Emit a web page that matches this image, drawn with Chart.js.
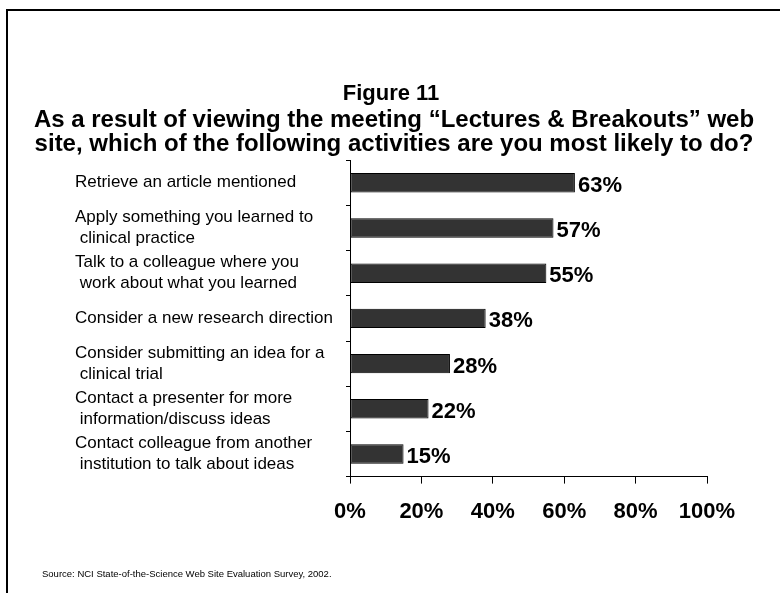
<!DOCTYPE html>
<html>
<head>
<meta charset="utf-8">
<script src="https://cdn.jsdelivr.net/npm/chart.js@4/dist/chart.umd.min.js"></script>
<style>
  html, body { margin: 0; padding: 0; background: #fff; }
  #wrap { position: relative; width: 780px; height: 593px; overflow: hidden; }
  #frame { position: absolute; left: 6px; top: 9px; width: 800px; height: 600px;
           border-left: 2px solid #000; border-top: 2px solid #000; }
  #chart { position: absolute; left: 0; top: 0; }
  #source { position: absolute; left: 42px; top: 568px; font: 9.5px "Liberation Sans", Arial, sans-serif; color: #000; }
</style>
</head>
<body>
<div id="wrap">
  <div id="frame"></div>
  <canvas id="chart" width="780" height="593"></canvas>
  <div id="source">Source: NCI State-of-the-Science Web Site Evaluation Survey, 2002.</div>
</div>
<script>
  var activities = [
    ['Retrieve an article mentioned'],
    ['Apply something you learned to', ' clinical practice'],
    ['Talk to a colleague where you', ' work about what you learned'],
    ['Consider a new research direction'],
    ['Consider submitting an idea for a', ' clinical trial'],
    ['Contact a presenter for more', ' information/discuss ideas'],
    ['Contact colleague from another', ' institution to talk about ideas']
  ];
  var percents = [63, 57, 55, 38, 28, 22, 15];
  var xTicks = [0, 20, 40, 60, 80, 100];
  var subtitleLines = [
    'As a result of viewing the meeting \u201cLectures & Breakouts\u201d web',
    'site, which of the following activities are you most likely to do?'
  ];

  var fontFamily = '"Liberation Sans", Arial, sans-serif';

  // percent labels right of each bar
  var valueLabels = {
    id: 'valueLabels',
    afterDatasetsDraw: function (chart) {
      var ctx = chart.ctx;
      var meta = chart.getDatasetMeta(0);
      ctx.save();
      ctx.font = 'bold 22px ' + fontFamily;
      ctx.fillStyle = '#000';
      ctx.textAlign = 'left';
      ctx.textBaseline = 'middle';
      meta.data.forEach(function (bar, i) {
        ctx.fillText(percents[i] + '%', bar.x + 3, bar.y + 3);
      });
      ctx.restore();
    }
  };

  // the two question lines are wider than the plot box, so draw them here
  // (the built-in subtitle squeezes them to fit)
  var questionText = {
    id: 'questionText',
    afterDraw: function (chart) {
      var ctx = chart.ctx;
      ctx.save();
      ctx.font = 'bold 24px ' + fontFamily;
      ctx.fillStyle = '#000';
      ctx.textAlign = 'center';
      ctx.textBaseline = 'middle';
      subtitleLines.forEach(function (line, i) {
        ctx.fillText(line, chart.width / 2 + 4, 120 + i * 24);
      });
      ctx.restore();
    }
  };

  new Chart(document.getElementById('chart'), {
    type: 'bar',
    data: {
      labels: activities,
      datasets: [{
        data: percents,
        backgroundColor: '#333333',
        borderColor: '#000000',
        borderWidth: 1,
        borderSkipped: false,
        barPercentage: 0.86,
        categoryPercentage: 0.5
      }]
    },
    options: {
      indexAxis: 'y',
      responsive: false,
      animation: false,
      layout: {
        padding: { left: 75, right: 73, top: 82, bottom: 53 }
      },
      scales: {
        x: {
          min: 0,
          max: 100,
          afterBuildTicks: function (axis) {
            axis.ticks = xTicks.map(function (v) { return { value: v }; });
          },
          grid: {
            drawOnChartArea: false,
            drawTicks: true,
            tickLength: 7,
            color: '#000',
            lineWidth: 1
          },
          border: { display: true, color: '#000', width: 1 },
          ticks: {
            color: '#000',
            font: { family: fontFamily, size: 22, weight: 'bold', lineHeight: 1.2 },
            padding: 15,
            maxRotation: 0,
            callback: function (v) { return v + '%'; }
          }
        },
        y: {
          afterFit: function (axis) { axis.width = 275; },
          grid: {
            offset: true,
            drawOnChartArea: false,
            drawTicks: true,
            tickLength: 4,
            color: '#000',
            lineWidth: 1
          },
          border: { display: true, color: '#000', width: 1 },
          ticks: {
            color: '#000',
            crossAlign: 'far',
            font: { family: fontFamily, size: 17, lineHeight: 1.24 },
            autoSkip: false
          }
        }
      },
      plugins: {
        legend: { display: false },
        tooltip: { enabled: false },
        title: {
          display: true,
          text: 'Figure 11',
          color: '#000',
          font: { family: fontFamily, size: 22, weight: 'bold', lineHeight: 1.1 },
          padding: { top: 0, bottom: 54 }
        }
      }
    },
    plugins: [valueLabels, questionText]
  });
</script>
</body>
</html>
